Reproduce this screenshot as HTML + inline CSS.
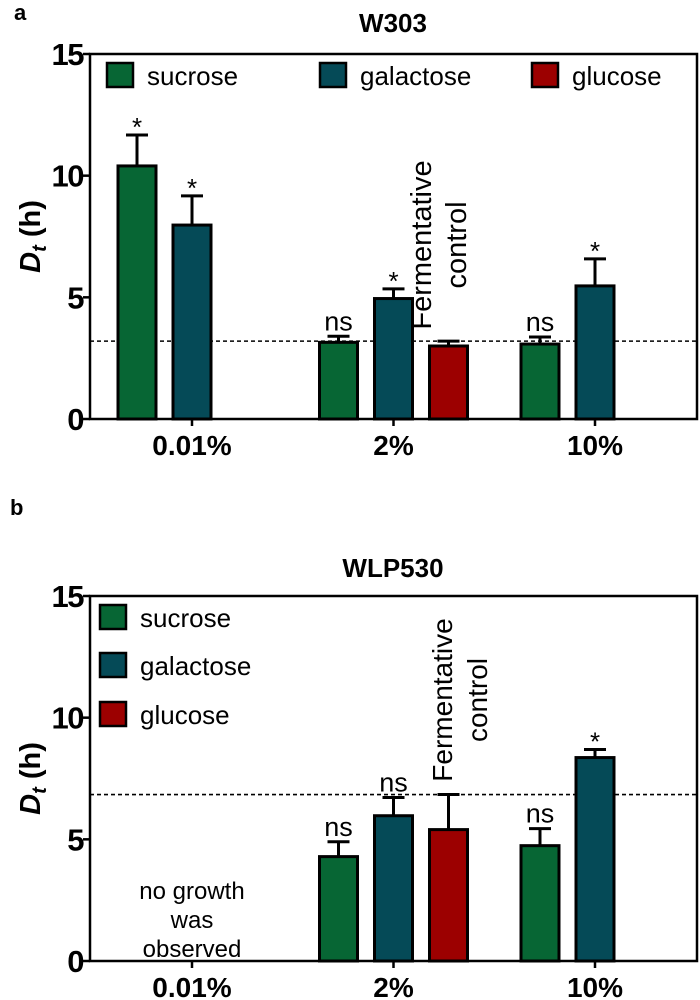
<!DOCTYPE html>
<html><head><meta charset="utf-8"><style>
html,body{margin:0;padding:0;background:#fff;}
svg{display:block;font-family:"Liberation Sans",Arial,sans-serif;}
</style></head><body>
<svg id="chart" width="700" height="1000" viewBox="0 0 700 1000" xmlns="http://www.w3.org/2000/svg"></svg>
<script>
const groups = ["0.01%", "2%", "10%"];
const seriesNames = ["sucrose", "galactose", "glucose"];
const colors = ["#076634", "#054a57", "#9c0000"];
const yTicks = [0, 5, 10, 15];
// panel a (W303): [group][series] mean, error top; null = no bar
const aMeans = [[10.4, 7.97, null], [3.15, 4.95, 3.0], [3.08, 5.47, null]];
const aErrTop = [[11.67, 9.17, null], [3.4, 5.35, 3.2], [3.37, 6.58, null]];
const aMarks = [["*", "*", ""], ["ns", "*", ""], ["ns", "*", ""]];
const aRef = 3.2;
// panel b (WLP530)
const bMeans = [[null, null, null], [4.29, 5.97, 5.4], [4.74, 8.36, null]];
const bErrTop = [[null, null, null], [4.9, 6.72, 6.84], [5.44, 8.69, null]];
const bMarks = [["", "", ""], ["ns", "ns", ""], ["ns", "*", ""]];
const bRef = 6.84;

const NS = "http://www.w3.org/2000/svg";
const svg = document.getElementById("chart");
function mk(tag, attrs, parent, text) {
  const e = document.createElementNS(NS, tag);
  for (const k in attrs) e.setAttribute(k, attrs[k]);
  if (text !== undefined) e.textContent = text;
  (parent || svg).appendChild(e);
  return e;
}

function panel(opt) {
  const g = mk("g", {});
  
  
  const x0 = 90, x1 = 697, yTop = opt.yTop, yBot = opt.yBot;
  const y = v => yBot - (v / 15) * (yBot - yTop);
  const gx = i => 192 + i * 201.5;
  const bw = 38, off = 55;

  const lab = mk("text", {x: opt.labX, y: opt.labY, "font-size": 22, "font-weight": "bold"}, g, opt.letter);
  
  
  const t = mk("text", {x: 393, y: opt.titleY, "font-size": 26, "font-weight": "bold", "text-anchor": "middle"}, g, opt.title);
  
  

  const dl = mk("line", {x1: x0, x2: x1, y1: y(opt.ref), y2: y(opt.ref), stroke: "#000", "stroke-width": 1.6, "stroke-dasharray": "4,3"}, g);
  
  

  for (let i = 0; i < groups.length; i++) {
    for (let s = 0; s < 3; s++) {
      const m = opt.means[i][s];
      if (m === null) continue;
      const cx = gx(i) + (s - 1) * off;
      const et = opt.err[i][s];
      const el = mk("line", {x1: cx, x2: cx, y1: y(m), y2: y(et), stroke: "#000", "stroke-width": 3}, g);
      
      
      const cap = mk("line", {x1: cx - 11, x2: cx + 11, y1: y(et), y2: y(et), stroke: "#000", "stroke-width": 3}, g);
      
      
      const r = mk("rect", {x: cx - bw / 2, y: y(m), width: bw, height: y(0) - y(m), fill: colors[s], stroke: "#000", "stroke-width": 3}, g);
      
      
      const mark = opt.marks[i][s];
      if (mark) {
        const isStar = mark === "*";
        const mt = mk("text", {x: cx, y: y(et) + (isStar ? 1 : -6), "font-size": isStar ? 26 : 27, "text-anchor": "middle"}, g, mark);
        
        
      }
    }
  }

  const box = mk("rect", {x: x0, y: yTop, width: x1 - x0, height: yBot - yTop, fill: "none", stroke: "#000", "stroke-width": 2.5}, g);
  
  

  for (const v of yTicks) {
    const tl = mk("line", {x1: x0 - 7, x2: x0, y1: y(v), y2: y(v), stroke: "#000", "stroke-width": 2.5}, g);
    
    
    const tt = mk("text", {x: x0 - 7, y: y(v) + 11, "font-size": 31, "font-weight": "bold", "text-anchor": "end", "letter-spacing": "-1.5"}, g, String(v));
    
    
  }
  for (let i = 0; i < groups.length; i++) {
    const tl = mk("line", {x1: gx(i), x2: gx(i), y1: yBot, y2: yBot + 7, stroke: "#000", "stroke-width": 2.5}, g);
    
    
    const tt = mk("text", {x: gx(i), y: yBot + 36, "font-size": 28, "font-weight": "bold", "text-anchor": "middle"}, g, groups[i]);
    
    
  }

  const yl = mk("text", {transform: "translate(40," + ((yTop + yBot) / 2) + ") rotate(-90)", "font-size": 29, "font-weight": "bold", "text-anchor": "middle"}, g);
  
  
  mk("tspan", {"font-style": "italic"}, yl, "D");
  mk("tspan", {"font-style": "italic", "font-size": 20, dy: 6}, yl, "t");
  mk("tspan", {dy: -6}, yl, " (h)");

  const fc = mk("text", {transform: "translate(" + opt.fcX + "," + opt.fcY + ") rotate(-90)", "font-size": opt.fcSize, "text-anchor": "middle"}, g);
  
  
  mk("tspan", {x: 0, y: 0}, fc, "Fermentative");
  mk("tspan", {x: 0, y: 35}, fc, "control");

  for (let s = 0; s < 3; s++) {
    const lx = opt.legX[s], ly = opt.legY[s];
    const lg = mk("g", {}, g);
    
    
    mk("rect", {x: lx, y: ly, width: 26, height: 24, fill: colors[s], stroke: "#000", "stroke-width": 2.5}, lg);
    mk("text", {x: lx + 40, y: ly + 22, "font-size": 26}, lg, seriesNames[s]);
  }
  return {g, y, gx};
}

panel({id: "w303", letter: "a", labX: 14, labY: 20, title: "W303", titleY: 32, yTop: 54, yBot: 419,
  means: aMeans, err: aErrTop, marks: aMarks, ref: aRef, fcX: 431, fcY: 245, fcSize: 29,
  legX: [107, 320, 532], legY: [63, 63, 63]});
const pb = panel({id: "wlp530", letter: "b", labX: 10, labY: 515, title: "WLP530", titleY: 577, yTop: 596, yBot: 961,
  means: bMeans, err: bErrTop, marks: bMarks, ref: bRef, fcX: 452, fcY: 700, fcSize: 28,
  legX: [100, 100, 100], legY: [605, 653, 702]});

const ng = mk("text", {x: 192, y: 900, "font-size": 24, "text-anchor": "middle"}, pb.g);


mk("tspan", {x: 192, y: 899}, ng, "no growth");
mk("tspan", {x: 192, y: 928}, ng, "was");
mk("tspan", {x: 192, y: 957}, ng, "observed");
</script>
</body></html>
